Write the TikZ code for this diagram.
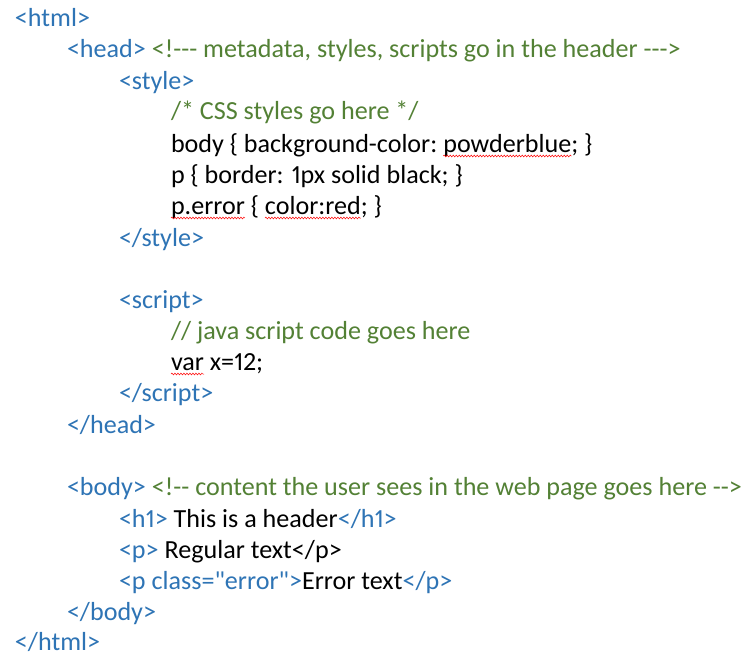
\documentclass[tikz,border=0pt]{standalone}
\usepackage{fontspec}
\setmainfont{Carlito}[Ligatures=TeXOff, Numbers=Proportional]
\usetikzlibrary{decorations.pathmorphing}
\definecolor{tagc}{HTML}{2E74B5}
\definecolor{cmtc}{HTML}{538135}
\tikzset{
  seg/.style={inner sep=0pt, outer sep=0pt, anchor=base west, font=\fontsize{26.1}{31}\selectfont},
  tag/.style={seg, text=tagc},
  cmt/.style={seg, text=cmtc},
  txt/.style={seg, text=black},
  squig/.style={draw=red, line width=0.5pt, decorate, decoration={snake, amplitude=0.9pt, segment length=3pt}}
}
\begin{document}
\begin{tikzpicture}[x=1pt,y=-1pt]
\useasboundingbox[fill=white] (0,0) rectangle (745,669);
\node[tag] (html) at (15,27) {<html>};
\node[tag] (head) at (67,58) {<head>};
\node[cmt] (headc) at (head.base east) {\ <!--- metadata, styles, scripts go in the header --->};
\node[tag] (style) at (119,89) {<style>};
\node[cmt] (css) at (171,120) {/* CSS styles go here */};
\node[txt] (b1) at (171,152) {body \{ background-color:\ \null};
\node[txt] (b2) at (b1.base east) {powderblue};
\node[txt] (b3) at (b2.base east) {; \}};
\node[txt] (p1) at (171,183) {p \{ border: 1px solid black; \}};
\node[txt] (pe1) at (171,214) {p.error};
\node[txt] (pe2) at (pe1.base east) {\ \{\ \null};
\node[txt] (pe3) at (pe2.base east) {color:red};
\node[txt] (pe4) at (pe3.base east) {; \}};
\node[tag] (estyle) at (119,246) {</style>};
\node[tag] (script) at (119,308) {<script>};
\node[cmt] (js) at (171,339) {// java script code goes here};
\node[txt] (v1) at (171,370) {var};
\node[txt] (v2) at (v1.base east) {\ x=12;};
\node[tag] (escript) at (119,401) {</script>};
\node[tag] (ehead) at (67,433) {</head>};
\node[tag] (body) at (67,495) {<body>};
\node[cmt] (bodyc) at (body.base east) {\ <!-- content the user sees in the web page goes here -->};
\node[tag] (h1) at (119,527) {<h1>};
\node[txt] (h1t) at (h1.base east) {\ This is a header};
\node[tag] (h1e) at (h1t.base east) {</h1>};
\node[tag] (pp) at (119,558) {<p>};
\node[txt] (ppt) at (pp.base east) {\ Regular text</p>};
\node[tag] (pc) at (119,589) {<p class="error">};
\node[txt] (pct) at (pc.base east) {Error text};
\node[tag] (pce) at (pct.base east) {</p>};
\node[tag] (ebody) at (67,620) {</body>};
\node[tag] (ehtml) at (15,650) {</html>};
\draw[squig] ([yshift=-4pt]b2.base west) -- ([yshift=-4pt]b2.base east);
\draw[squig] ([yshift=-4pt]pe1.base west) -- ([yshift=-4pt]pe1.base east);
\draw[squig] ([yshift=-4pt]pe3.base west) -- ([yshift=-4pt]pe3.base east);
\draw[squig] ([yshift=-4pt]v1.base west) -- ([yshift=-4pt]v1.base east);
\end{tikzpicture}
\end{document}
